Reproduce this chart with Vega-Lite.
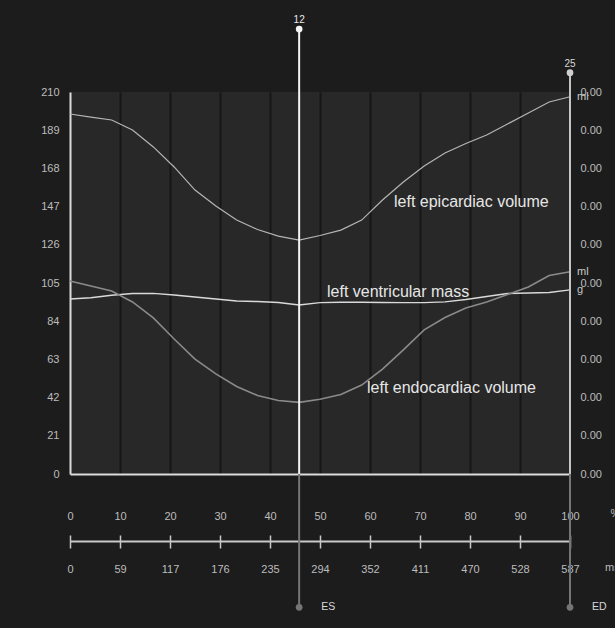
{
  "$schema": "https://vega.github.io/schema/vega-lite/v6.json",
  "width": 500,
  "height": 382,
  "autosize": {"type": "none"},
  "padding": {"left": 70, "top": 92, "right": 45, "bottom": 154},
  "background": "#1c1c1c",
  "config": {
    "view": {"fill": "#282828", "stroke": null},
    "font": "Liberation Sans",
    "axis": {"labelFont": "Liberation Sans", "labelFontSize": 11, "labelColor": "#bdbdbd", "title": null, "grid": false, "ticks": false, "tickSize": 0, "domain": false, "labelFlush": false, "labelOverlap": false, "zindex": 0}
  },
  "datasets": {
    "curves": [
      {"frame": 1, "pct": 0, "epi": 197.9, "endo": 106.1, "mass": 96.2},
      {"frame": 2, "pct": 4.17, "epi": 196.2, "endo": 103.4, "mass": 96.9},
      {"frame": 3, "pct": 8.33, "epi": 194.6, "endo": 100.6, "mass": 98.3},
      {"frame": 4, "pct": 12.5, "epi": 189.1, "endo": 94.6, "mass": 99.2},
      {"frame": 5, "pct": 16.67, "epi": 179.8, "endo": 85.8, "mass": 99.3},
      {"frame": 6, "pct": 20.83, "epi": 168.8, "endo": 74.2, "mass": 98.4},
      {"frame": 7, "pct": 25, "epi": 156.1, "endo": 63.2, "mass": 97.3},
      {"frame": 8, "pct": 29.17, "epi": 147.3, "endo": 55.0, "mass": 96.2},
      {"frame": 9, "pct": 33.33, "epi": 139.6, "endo": 48.1, "mass": 95.1},
      {"frame": 10, "pct": 37.5, "epi": 134.4, "endo": 43.2, "mass": 94.8},
      {"frame": 11, "pct": 41.67, "epi": 130.8, "endo": 40.4, "mass": 94.3},
      {"frame": 12, "pct": 45.83, "epi": 128.6, "endo": 39.4, "mass": 92.9},
      {"frame": 13, "pct": 50, "epi": 131.1, "endo": 41.1, "mass": 94.2},
      {"frame": 14, "pct": 54.17, "epi": 134.1, "endo": 43.7, "mass": 94.4},
      {"frame": 15, "pct": 58.33, "epi": 139.6, "endo": 48.9, "mass": 94.4},
      {"frame": 16, "pct": 62.5, "epi": 150.6, "endo": 57.7, "mass": 94.3},
      {"frame": 17, "pct": 66.67, "epi": 160.5, "endo": 68.2, "mass": 94.2},
      {"frame": 18, "pct": 70.83, "epi": 169.3, "endo": 79.2, "mass": 94.2},
      {"frame": 19, "pct": 75, "epi": 176.5, "endo": 86.0, "mass": 94.6},
      {"frame": 20, "pct": 79.17, "epi": 181.7, "endo": 91.3, "mass": 95.9},
      {"frame": 21, "pct": 83.33, "epi": 186.4, "endo": 94.6, "mass": 97.6},
      {"frame": 22, "pct": 87.5, "epi": 192.4, "endo": 98.7, "mass": 99.2},
      {"frame": 23, "pct": 91.67, "epi": 198.5, "endo": 102.8, "mass": 99.5},
      {"frame": 24, "pct": 95.83, "epi": 204.5, "endo": 109.1, "mass": 99.8},
      {"frame": 25, "pct": 100, "epi": 207.4, "endo": 111.2, "mass": 101.2}
    ],
    "markers": [
      {"marker": "ES", "frame": 12, "pct": 45.83},
      {"marker": "ED", "frame": 25, "pct": 100}
    ]
  },
  "resolve": {"axis": {"x": "independent", "y": "independent"}},
  "layer": [
    {
      "data": {"name": "curves"},
      "transform": [{"fold": ["epi", "mass", "endo"], "as": ["series", "value"]}],
      "mark": {"type": "line", "interpolate": "linear"},
      "encoding": {
        "x": {
          "field": "pct", "type": "quantitative",
          "scale": {"domain": [0, 100], "nice": false, "zero": false},
          "axis": {
            "orient": "bottom", "values": [0, 10, 20, 30, 40, 50, 60, 70, 80, 90, 100],
            "grid": true, "gridColor": "#161616", "gridWidth": 2,
            "gridOpacity": {"condition": {"test": "datum.value == 0 || datum.value == 100", "value": 0}, "value": 1},
            "domain": true, "domainColor": "#dcdcdc", "domainWidth": 2,
            "ticks": false, "labelPadding": 36
          }
        },
        "y": {
          "field": "value", "type": "quantitative",
          "scale": {"domain": [0, 210], "nice": false, "zero": false},
          "axis": {
            "orient": "left", "values": [0, 21, 42, 63, 84, 105, 126, 147, 168, 189, 210],
            "domain": true, "domainColor": "#dcdcdc", "domainWidth": 2,
            "ticks": false, "labelPadding": 11
          }
        },
        "color": {"field": "series", "type": "nominal", "scale": {"domain": ["epi", "mass", "endo"], "range": ["#b5b5b5", "#dadada", "#8a8a8a"]}, "legend": null},
        "strokeWidth": {"field": "series", "type": "nominal", "scale": {"domain": ["epi", "mass", "endo"], "range": [1.2, 1.6, 1.2]}, "legend": null}
      }
    },
    {
      "data": {"name": "markers"},
      "mark": {"type": "rule", "color": "#757575", "strokeWidth": 2},
      "encoding": {
        "x": {
          "field": "pct", "type": "quantitative",
          "axis": {
            "orient": "bottom", "offset": 61, "values": [0, 10, 20, 30, 40, 50, 60, 70, 80, 90, 100],
            "ticks": true, "tickSize": 13, "tickColor": "#c8c8c8", "tickWidth": 1.5,
            "domain": false, "labelPadding": 15,
            "labelExpr": "'' + round(datum.value * 5.87)"
          }
        },
        "y": {"datum": 0, "type": "quantitative", "axis": null},
        "y2": {"datum": -73.3}
      }
    },
    {
      "data": {"name": "markers"},
      "transform": [{"filter": "datum.marker == 'ES'"}],
      "mark": {"type": "rule", "color": "#f4f4f4", "strokeWidth": 2},
      "encoding": {
        "x": {
          "field": "pct", "type": "quantitative",
          "axis": {"orient": "bottom", "offset": 67, "domain": true, "domainColor": "#c8c8c8", "domainWidth": 2, "labels": false, "ticks": false}
        },
        "y": {"datum": 244.6, "type": "quantitative", "axis": null},
        "y2": {"datum": 0}
      }
    },
    {
      "data": {"name": "markers"},
      "transform": [{"filter": "datum.marker == 'ED'"}],
      "mark": {"type": "rule", "color": "#c4c4c4", "strokeWidth": 2},
      "encoding": {
        "x": {"field": "pct", "type": "quantitative", "axis": null},
        "y": {"datum": 220.6, "type": "quantitative", "axis": null},
        "y2": {"datum": 0}
      }
    },
    {
      "data": {"name": "markers"},
      "transform": [{"filter": "datum.marker == 'ES'"}],
      "mark": {"type": "point", "filled": true, "opacity": 1, "color": "#f4f4f4", "size": 45},
      "encoding": {
        "x": {"field": "pct", "type": "quantitative", "axis": null},
        "y": {"datum": 244.6, "type": "quantitative", "axis": null}
      }
    },
    {
      "data": {"name": "markers"},
      "transform": [{"filter": "datum.marker == 'ES'"}],
      "mark": {"type": "text", "color": "#e8e8e8", "fontSize": 10, "dy": -9, "baseline": "middle", "align": "center"},
      "encoding": {
        "x": {"field": "pct", "type": "quantitative", "axis": null},
        "y": {"datum": 244.6, "type": "quantitative", "axis": null},
        "text": {"field": "frame", "type": "nominal"}
      }
    },
    {
      "data": {"name": "markers"},
      "transform": [{"filter": "datum.marker == 'ED'"}],
      "mark": {"type": "point", "filled": true, "opacity": 1, "color": "#cfcfcf", "size": 45},
      "encoding": {
        "x": {"field": "pct", "type": "quantitative", "axis": null},
        "y": {"datum": 220.6, "type": "quantitative", "axis": null}
      }
    },
    {
      "data": {"name": "markers"},
      "transform": [{"filter": "datum.marker == 'ED'"}],
      "mark": {"type": "text", "color": "#d8d8d8", "fontSize": 10, "dy": -9, "baseline": "middle", "align": "center"},
      "encoding": {
        "x": {"field": "pct", "type": "quantitative", "axis": null},
        "y": {"datum": 220.6, "type": "quantitative", "axis": null},
        "text": {"field": "frame", "type": "nominal"}
      }
    },
    {
      "data": {"name": "markers"},
      "mark": {"type": "point", "filled": true, "opacity": 1, "color": "#757575", "size": 45},
      "encoding": {
        "x": {"field": "pct", "type": "quantitative", "axis": null},
        "y": {"datum": -73.3, "type": "quantitative", "axis": null}
      }
    },
    {
      "data": {"name": "markers"},
      "mark": {"type": "text", "color": "#d8d8d8", "fontSize": 10.5, "dx": 22, "align": "left", "baseline": "middle"},
      "encoding": {
        "x": {"field": "pct", "type": "quantitative", "axis": null},
        "y": {"datum": -73.3, "type": "quantitative", "axis": null},
        "text": {"field": "marker", "type": "nominal"}
      }
    },
    {
      "data": {"values": [
        {"label": "left epicardiac volume", "pct": 64.8, "value": 149.5},
        {"label": "left ventricular mass", "pct": 51.4, "value": 100.2},
        {"label": "left endocardiac volume", "pct": 59.4, "value": 47.1}
      ]},
      "mark": {"type": "text", "color": "#e6e6e6", "fontSize": 16, "align": "left", "baseline": "middle"},
      "encoding": {
        "x": {"field": "pct", "type": "quantitative", "axis": null},
        "y": {"field": "value", "type": "quantitative", "axis": null},
        "text": {"field": "label", "type": "nominal"}
      }
    },
    {
      "data": {"values": [
        {"series": "epi", "pct": 100, "value": 207.4, "unit": "ml"},
        {"series": "endo", "pct": 100, "value": 111.2, "unit": "ml"},
        {"series": "mass", "pct": 100, "value": 101.2, "unit": "g"}
      ]},
      "mark": {"type": "text", "color": "#c8c8c8", "fontSize": 11, "dx": 7, "align": "left", "baseline": "middle"},
      "encoding": {
        "x": {"field": "pct", "type": "quantitative", "axis": null},
        "y": {
          "field": "value", "type": "quantitative",
          "axis": {
            "orient": "right", "values": [0, 21, 42, 63, 84, 105, 126, 147, 168, 189, 210],
            "labelExpr": "'0.00'", "domain": false, "ticks": false, "labelPadding": 10
          }
        },
        "text": {"field": "unit", "type": "nominal"}
      }
    },
    {
      "data": {"values": [
        {"t": "%", "pct": 108.1, "value": -22},
        {"t": "ms", "pct": 107, "value": -51.7}
      ]},
      "mark": {"type": "text", "color": "#bdbdbd", "fontSize": 11, "align": "left", "baseline": "middle"},
      "encoding": {
        "x": {"field": "pct", "type": "quantitative", "axis": null},
        "y": {"field": "value", "type": "quantitative", "axis": null},
        "text": {"field": "t", "type": "nominal"}
      }
    }
  ]
}
